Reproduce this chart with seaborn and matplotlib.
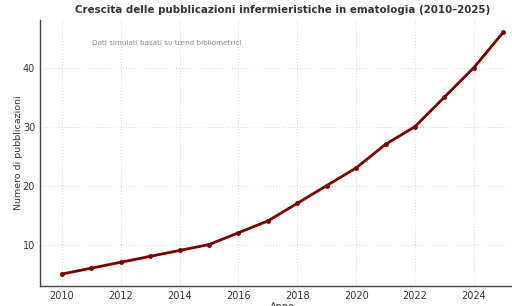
import matplotlib
matplotlib.use("Agg")
import matplotlib.pyplot as plt
import seaborn as sns
import pandas as pd

# Dati
anni = [2010, 2011, 2012, 2013, 2014, 2015, 2016, 2017,
        2018, 2019, 2020, 2021, 2022, 2023, 2024, 2025]
pubblicazioni = [5, 6, 7, 8, 9, 10, 12, 14, 17, 20, 23, 27, 30, 35, 40, 46]

df = pd.DataFrame({"Anno": anni, "Pubblicazioni": pubblicazioni})

sns.set_style("white")
plt.rcParams['font.family'] = ['DejaVu Sans']

fig = plt.figure(figsize=(5.12, 3.06), dpi=100)
ax = fig.add_axes([0.078, 0.065, 0.948, 0.869])

sns.lineplot(data=df, x="Anno", y="Pubblicazioni", ax=ax, color="#7a0000",
             linewidth=2, marker="o", markersize=3.5, markeredgewidth=0)

ax.set_xlim(2009.25, 2025.75)
ax.set_ylim(2.95, 48.05)
ax.set_xticks([2010, 2012, 2014, 2016, 2018, 2020, 2022, 2024])
ax.set_yticks([10, 20, 30, 40])
ax.grid(True, color="#d8d8d8", linestyle=":", linewidth=0.8)
ax.tick_params(direction="in", labelsize=7, colors="#333333", length=3)
for s in ["top", "right"]:
    ax.spines[s].set_visible(False)
for s in ["left", "bottom"]:
    ax.spines[s].set_color("#444444")
    ax.spines[s].set_linewidth(1)

ax.set_xlabel("Anno", fontsize=7, color="#333333", labelpad=1)
ax.set_ylabel("Numero di pubblicazioni", fontsize=6.8, color="#333333", labelpad=0)
ax.set_title("Crescita delle pubblicazioni infermieristiche in ematologia (2010–2025)",
             fontsize=7.4, fontweight="bold", color="#333333", pad=5)
ax.text(0.107, 0.913, "Dati simulati basati su trend bibliometrici", transform=ax.transAxes,
        fontsize=5.2, color="#888888", va="center")

fig.savefig("out.png", dpi=100)
